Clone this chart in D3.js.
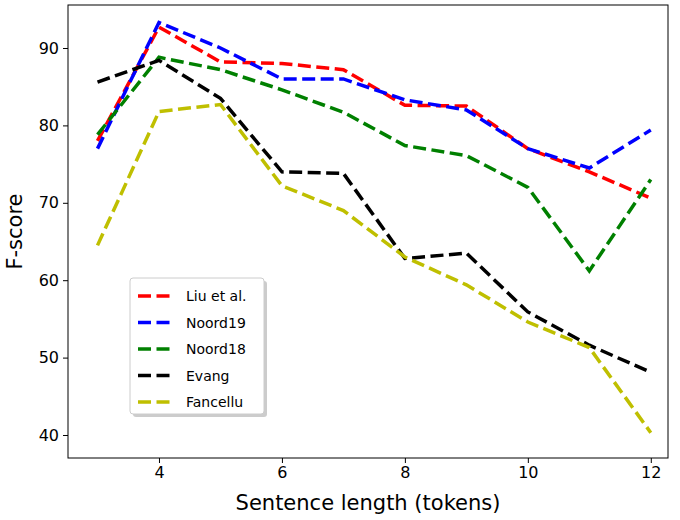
<!DOCTYPE html>
<html><head><meta charset="utf-8">
<script src="https://cdn.jsdelivr.net/npm/d3@7"></script>
<style>body{margin:0;background:#fff}text{font-family:"DejaVu Sans",sans-serif}</style>
</head><body><svg id="c" width="680" height="520"></svg>
<script>
const lengths = [3, 4, 5, 6, 7, 8, 9, 10, 11, 12];
const liu = [78, 92.7, 88.2, 88, 87.2, 82.6, 82.5, 77, 74, 70.6];
const noord19 = [77, 93.3, 90, 86, 86, 83.3, 82, 77, 74.5, 79.4];
const noord18 = [78.8, 88.8, 87.2, 84.6, 81.7, 77.4, 76.1, 72, 61.2, 73];
const evang = [85.6, 88.4, 83.5, 74, 73.8, 62.8, 63.5, 55.9, 51.6, 48.1];
const fancellu = [64.5, 81.8, 82.7, 72.2, 69, 63, 59.4, 54.6, 51.3, 40.3];
const seriesNames = ["Liu et al.", "Noord19", "Noord18", "Evang", "Fancellu"];
const seriesColors = ["#ff0000", "#0000ff", "#008000", "#000000", "#bfbf00"];
const allSeries = [liu, noord19, noord18, evang, fancellu];

const svg = d3.select("#c");
const L = 68, R = 668, T = 5, B = 458;
const x = d3.scaleLinear().domain([2.52, 12.28]).range([L, R]);
const y = d3.scaleLinear().domain([90 + 43 / 7.74, 90 - 410 / 7.74]).range([T, B]);

svg.append("g").attr("transform", `translate(0,${B})`)
  .call(d3.axisBottom(x).tickValues([4, 6, 8, 10, 12]).tickSize(5).tickPadding(4))
  .call(g => g.selectAll("text").attr("font-size", 16).attr("fill", "#000"));
svg.append("g").attr("transform", `translate(${L},0)`)
  .call(d3.axisLeft(y).tickValues([40, 50, 60, 70, 80, 90]).tickSize(5).tickPadding(4))
  .call(g => g.selectAll("text").attr("font-size", 16).attr("fill", "#000"));
svg.selectAll(".domain").remove();
svg.append("rect").attr("x", L).attr("y", T).attr("width", R - L).attr("height", B - T)
  .attr("fill", "none").attr("stroke", "#000").attr("stroke-width", 1);

const line = d3.line().x((d, i) => x(lengths[i])).y(d => y(d));
svg.append("clipPath").attr("id", "pc").append("rect")
  .attr("x", L).attr("y", T).attr("width", R - L).attr("height", B - T);
svg.append("g").attr("clip-path", "url(#pc)").selectAll("path").data(allSeries).join("path")
  .attr("d", line).attr("fill", "none")
  .attr("stroke", (d, i) => seriesColors[i]).attr("stroke-width", 3.5)
  .attr("stroke-dasharray", "13,5.5");

svg.append("text").attr("x", (L + R) / 2).attr("y", 510).attr("text-anchor", "middle")
  .attr("font-size", 21).text("Sentence length (tokens)");
svg.append("text").attr("transform", `translate(22,${(T + B) / 2}) rotate(-90)`)
  .attr("text-anchor", "middle").attr("font-size", 21).text("F-score");

const lg = svg.append("g").attr("transform", "translate(130,278)");
lg.append("rect").attr("x", 3).attr("y", 3).attr("width", 134).attr("height", 136).attr("rx", 3).attr("fill", "#999").attr("opacity", 0.5);
lg.append("rect").attr("width", 134).attr("height", 136).attr("rx", 3).attr("fill", "#fff").attr("stroke", "#ccc");
seriesNames.forEach((n, i) => {
  const yy = 18 + i * 26.5;
  lg.append("line").attr("x1", 8).attr("x2", 44).attr("y1", yy).attr("y2", yy)
    .attr("stroke", seriesColors[i]).attr("stroke-width", 3.5).attr("stroke-dasharray", "13,5.5");
  lg.append("text").attr("x", 56).attr("y", yy + 5).attr("font-size", 14).text(n);
});
</script></body></html>
